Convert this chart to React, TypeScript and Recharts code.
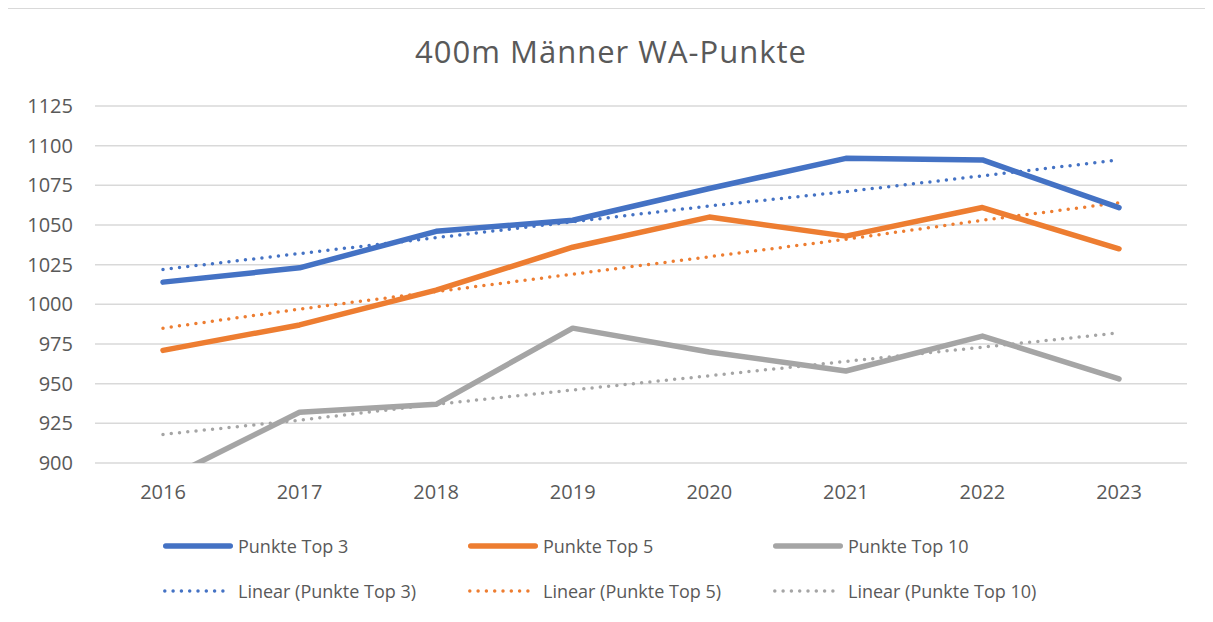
import { CartesianGrid, Line, LineChart, XAxis, YAxis } from "recharts"

const years = ["2016", "2017", "2018", "2019", "2020", "2021", "2022", "2023"]
const top3 = [1014, 1023, 1046, 1053, 1073, 1092, 1091, 1061]
const top5 = [971, 987, 1009, 1036, 1055, 1043, 1061, 1035]
const top10 = [889, 932, 937, 985, 970, 958, 980, 953]
// trendline values
const trend3 = [1022, 1032, 1042, 1052, 1062, 1071, 1081, 1091]
const trend5 = [985, 997, 1008, 1019, 1030, 1041, 1053, 1064]
const trend10 = [918, 927, 937, 946, 955, 964, 973, 982]
const yTicks = [900, 925, 950, 975, 1000, 1025, 1050, 1075, 1100, 1125]

const FONT = "'Open Sans', sans-serif"
const TEXT = "#595959"

const series = [
 { key: "top3", name: "Punkte Top 3", color: "#4472C4", dotted: false },
 { key: "top5", name: "Punkte Top 5", color: "#ED7D31", dotted: false },
 { key: "top10", name: "Punkte Top 10", color: "#A5A5A5", dotted: false },
 { key: "trend3", name: "Linear (Punkte Top 3)", color: "#4472C4", dotted: true },
 { key: "trend5", name: "Linear (Punkte Top 5)", color: "#ED7D31", dotted: true },
 { key: "trend10", name: "Linear (Punkte Top 10)", color: "#A5A5A5", dotted: true },
]

const data = years.map((year, i) => ({
 year,
 top3: top3[i],
 top5: top5[i],
 top10: top10[i],
 trend3: trend3[i],
 trend5: trend5[i],
 trend10: trend10[i],
}))

const LegendItem = ({ name, color, dotted }: { name: string; color: string; dotted: boolean }) => (
 <div style={{ display: "flex", alignItems: "center", width: 305, height: 25 }}>
  <svg width={78} height={10} style={{ flex: "none" }}>
   {dotted ? (
    <line x1={4.8} y1={5} x2={71.2} y2={5} stroke={color} strokeWidth={3.5} strokeLinecap="round" strokeDasharray="0 8.3" />
   ) : (
    <line x1={5.75} y1={5} x2={70.25} y2={5} stroke={color} strokeWidth={5.5} strokeLinecap="round" />
   )}
  </svg>
  <span>{name}</span>
 </div>
)

export default function App() {
 return (
  <div style={{ position: "relative", width: 1213, height: 622, margin: -8, background: "#fff", overflow: "hidden", fontFamily: FONT }}>
   <div style={{ position: "absolute", left: 0, width: 1222, top: 30, textAlign: "center", fontSize: 31, letterSpacing: 1, color: TEXT }}>
    400m Männer WA-Punkte
   </div>
   <div style={{ position: "absolute", left: 0, top: 0 }}>
    <LineChart width={1213} height={520} data={data} margin={{ top: 106, right: 26, bottom: 0, left: 0 }}>
     <CartesianGrid vertical={false} stroke="#d9d9d9" strokeWidth={1.5} />
     <XAxis
      dataKey="year"
      axisLine={false}
      tickLine={false}
      tickSize={0}
      tickMargin={22}
      padding={{ left: 68, right: 68 }}
      height={57}
      tick={{ fill: TEXT, fontSize: 20, fontFamily: FONT }}
     />
     <YAxis
      domain={[900, 1125]}
      ticks={yTicks}
      allowDataOverflow
      axisLine={false}
      tickLine={false}
      tickSize={0}
      tickMargin={22}
      width={95}
      tick={{ fill: TEXT, fontSize: 20, fontFamily: FONT }}
     />
     {series.filter(s => s.dotted).map(s => (
      <Line
       key={s.key}
       dataKey={s.key}
       stroke={s.color}
       strokeWidth={3.5}
       strokeDasharray="0 8.3"
       strokeLinecap="round"
       dot={false}
       activeDot={false}
       type="linear"
       isAnimationActive={false}
      />
     ))}
     {series.filter(s => !s.dotted).map(s => (
      <Line
       key={s.key}
       dataKey={s.key}
       stroke={s.color}
       strokeWidth={5.5}
       strokeLinecap="round"
       strokeLinejoin="round"
       dot={false}
       activeDot={false}
       type="linear"
       isAnimationActive={false}
      />
     ))}
    </LineChart>
   </div>
   <div style={{ position: "absolute", left: 160, top: 533, fontSize: 18, color: TEXT, display: "flex", flexWrap: "wrap", width: 920, rowGap: 20 }}>
    {series.map(s => (
     <LegendItem key={s.key} name={s.name} color={s.color} dotted={s.dotted} />
    ))}
   </div>
   <div style={{ position: "absolute", left: 6, top: 7, width: 1220, height: 630, borderLeft: "2px solid #d9d9d9", borderTop: "2px solid #d9d9d9", pointerEvents: "none" }} />
  </div>
 )
}
